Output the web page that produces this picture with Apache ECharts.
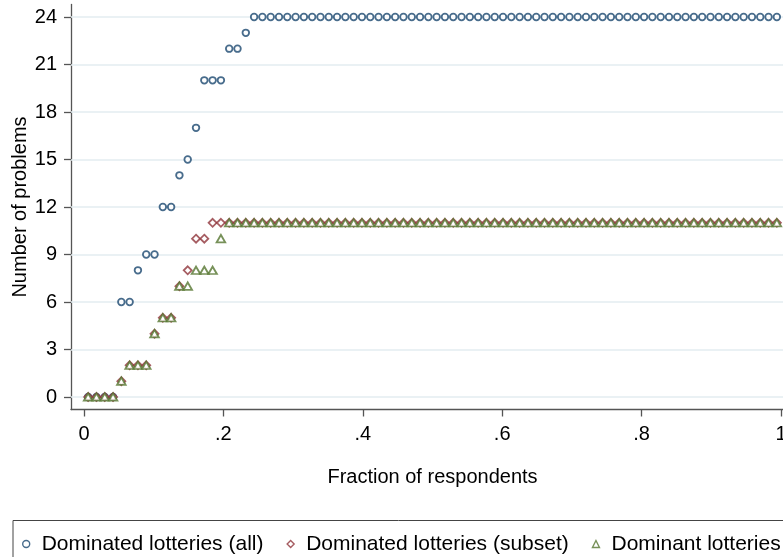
<!DOCTYPE html>
<html>
<head>
<meta charset="utf-8">
<script src="https://cdn.jsdelivr.net/npm/echarts@6.0.0/dist/echarts.min.js"></script>
<style>
  html, body { margin: 0; padding: 0; background: #ffffff; }
  #chart { width: 783px; height: 557px; }
</style>
</head>
<body>
<div id="chart"></div>
<script>
// Series labels, in drawing order
const seriesNames = [
  'Dominated lotteries (all)',
  'Dominated lotteries (subset)',
  'Dominant lotteries'
];

// Number of problems per respondent, sorted ascending (84 respondents)
const allProblems = [
  0, 0, 0, 0, 6, 6, 8, 9, 9, 12,
  12, 14, 15, 17, 20, 20, 20, 22, 22, 23,
  24, 24, 24, 24, 24, 24, 24, 24, 24, 24,
  24, 24, 24, 24, 24, 24, 24, 24, 24, 24,
  24, 24, 24, 24, 24, 24, 24, 24, 24, 24,
  24, 24, 24, 24, 24, 24, 24, 24, 24, 24,
  24, 24, 24, 24, 24, 24, 24, 24, 24, 24,
  24, 24, 24, 24, 24, 24, 24, 24, 24, 24,
  24, 24, 24, 24
];
const subsetProblems = [
  0, 0, 0, 0, 1, 2, 2, 2, 4, 5,
  5, 7, 8, 10, 10, 11, 11, 11, 11, 11,
  11, 11, 11, 11, 11, 11, 11, 11, 11, 11,
  11, 11, 11, 11, 11, 11, 11, 11, 11, 11,
  11, 11, 11, 11, 11, 11, 11, 11, 11, 11,
  11, 11, 11, 11, 11, 11, 11, 11, 11, 11,
  11, 11, 11, 11, 11, 11, 11, 11, 11, 11,
  11, 11, 11, 11, 11, 11, 11, 11, 11, 11,
  11, 11, 11, 11
];
const dominantProblems = [
  0, 0, 0, 0, 1, 2, 2, 2, 4, 5,
  5, 7, 7, 8, 8, 8, 10, 11, 11, 11,
  11, 11, 11, 11, 11, 11, 11, 11, 11, 11,
  11, 11, 11, 11, 11, 11, 11, 11, 11, 11,
  11, 11, 11, 11, 11, 11, 11, 11, 11, 11,
  11, 11, 11, 11, 11, 11, 11, 11, 11, 11,
  11, 11, 11, 11, 11, 11, 11, 11, 11, 11,
  11, 11, 11, 11, 11, 11, 11, 11, 11, 11,
  11, 11, 11, 11
];

// Axis ticks
const xTickValues = [0, 0.2, 0.4, 0.6, 0.8, 1];
const xTickLabels = ['0', '.2', '.4', '.6', '.8', '1'];
const yTickValues = [0, 3, 6, 9, 12, 15, 18, 21, 24];

// Quantile plot: the i-th sorted value sits at plotting position (i - 0.5) / n
function quantilePoints(values) {
  const n = values.length;
  return values.map((v, i) => [(i + 0.5) / n, v]);
}

const FONT = '"Liberation Sans", Arial, Helvetica, sans-serif';
const AXIS_GRAY = '#555555';

const chart = echarts.init(document.getElementById('chart'), null, { renderer: 'canvas' });

function markerSeries(name, values, symbol, size, color) {
  return {
    name: name,
    type: 'scatter',
    data: quantilePoints(values),
    symbol: symbol,
    symbolSize: size,
    itemStyle: { color: '#ffffff', borderColor: color, borderWidth: 1.8 },
    emphasis: { disabled: true },
    z: 3
  };
}

const series = [
  markerSeries(seriesNames[0], allProblems, 'circle', 6.6, '#1a476f'),
  markerSeries(seriesNames[1], subsetProblems, 'diamond', 8, '#90353b'),
  markerSeries(seriesNames[2], dominantProblems, 'triangle', [8.6, 7.4], '#55752f')
];

// Horizontal grid lines at the y ticks
series[0].markLine = {
  silent: true,
  z: 1,
  symbol: ['none', 'none'],
  label: { show: false },
  lineStyle: { color: '#e3ecf0', width: 1.5, type: 'solid' },
  emphasis: { disabled: true },
  data: yTickValues.map(v => ({ yAxis: v }))
};

chart.setOption({
  animation: false,
  backgroundColor: '#ffffff',
  textStyle: { fontFamily: FONT },
  grid: { left: 71, right: -11, top: 4.5, height: 405, containLabel: false, outerBoundsMode: 'none' },
  xAxis: {
    type: 'value',
    min: -0.01865,
    max: 1.01865,
    name: 'Fraction of respondents',
    nameLocation: 'middle',
    nameGap: 58,
    nameMoveOverlap: false,
    nameTextStyle: { fontSize: 20, color: '#000', fontFamily: FONT },
    axisLine: { show: true, onZero: false, lineStyle: { color: AXIS_GRAY, width: 1.3 } },
    axisTick: { show: true, length: 7, customValues: xTickValues, lineStyle: { color: AXIS_GRAY, width: 1.3 } },
    axisLabel: {
      customValues: xTickValues,
      margin: 15,
      fontSize: 20,
      color: '#000',
      fontFamily: FONT,
      formatter: v => {
        const k = xTickValues.findIndex(t => Math.abs(t - v) < 1e-9);
        return k >= 0 ? xTickLabels[k] : '';
      }
    },
    splitLine: { show: false }
  },
  yAxis: {
    type: 'value',
    min: -0.79,
    max: 24.79,
    name: 'Number of problems',
    nameLocation: 'middle',
    nameRotate: 90,
    nameGap: 41,
    nameMoveOverlap: false,
    nameTextStyle: { fontSize: 20, color: '#000', fontFamily: FONT },
    axisLine: { show: true, onZero: false, lineStyle: { color: AXIS_GRAY, width: 1.3 } },
    axisTick: { show: true, length: 7, customValues: yTickValues, lineStyle: { color: AXIS_GRAY, width: 1.3 } },
    axisLabel: {
      customValues: yTickValues,
      margin: 14,
      fontSize: 20,
      color: '#000',
      fontFamily: FONT
    },
    splitLine: { show: false }
  },
  legend: {
    data: seriesNames,
    selectedMode: false,
    orient: 'horizontal',
    left: 13,
    top: 520.5,
    width: 1000,
    padding: [13, 100, 40, 9],
    itemGap: 23,
    itemWidth: 7,
    itemHeight: 7,
    symbolKeepAspect: true,
    borderColor: '#444444',
    borderWidth: 1,
    textStyle: { fontSize: 21, color: '#000', fontFamily: FONT, padding: [0, 0, 0, 7] },
    itemStyle: { borderWidth: 1.4 }
  },
  series: series
});
</script>
</body>
</html>
